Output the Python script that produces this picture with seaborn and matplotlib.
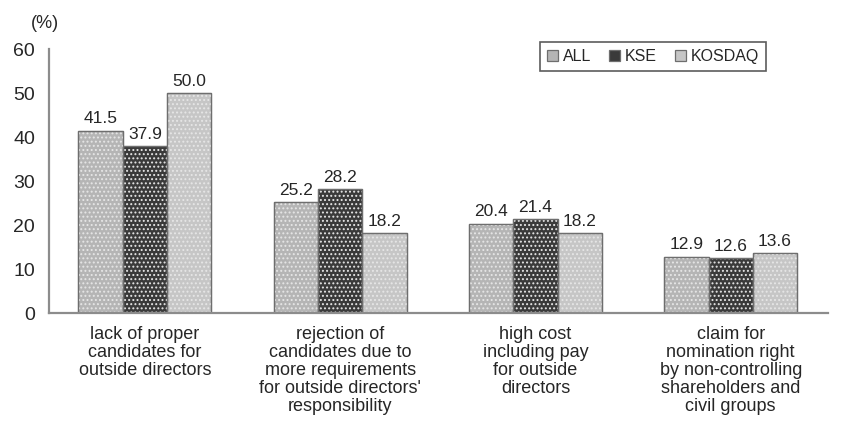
import matplotlib
matplotlib.use("Agg")
import matplotlib.pyplot as plt
import seaborn as sns
import pandas as pd
from matplotlib.patches import Rectangle

categories = [
    "lack of proper\ncandidates for\noutside directors",
    "rejection of\ncandidates due to\nmore requirements\nfor outside directors'\nresponsibility",
    "high cost\nincluding pay\nfor outside\ndirectors",
    "claim for\nnomination right\nby non-controlling\nshareholders and\ncivil groups",
]
groups = ["ALL", "KSE", "KOSDAQ"]
all_vals = [41.5, 25.2, 20.4, 12.9]
kse_vals = [37.9, 28.2, 21.4, 12.6]
kosdaq_vals = [50.0, 18.2, 18.2, 13.6]
colors = ["#b5b5b5", "#3a3a3a", "#c6c6c6"]

df = pd.DataFrame({
    "cat": categories * 3,
    "grp": [g for g in groups for _ in categories],
    "val": all_vals + kse_vals + kosdaq_vals,
})

sns.set_style("white")
plt.rcParams["font.family"] = ["Liberation Sans", "DejaVu Sans"]
plt.rcParams["hatch.linewidth"] = 0.9

fig = plt.figure(figsize=(8.62, 4.28), dpi=100)
ax = fig.add_axes([0.057, 0.268, 0.904, 0.617])

sns.barplot(data=df, x="cat", y="val", hue="grp", palette=colors,
            width=0.68, gap=0, ax=ax, edgecolor="#6e6e6e", linewidth=0.9)

# light dotted texture over the bars, then the outline again on top
for cont in ax.containers:
    for bar in cont:
        z = bar.get_zorder()
        ax.add_patch(Rectangle(bar.get_xy(), bar.get_width(), bar.get_height(),
                               fill=False, hatch="....", edgecolor="#e6e6e6",
                               linewidth=0, zorder=z + 0.1))
        ax.add_patch(Rectangle(bar.get_xy(), bar.get_width(), bar.get_height(),
                               fill=False, edgecolor="#6e6e6e", linewidth=0.9,
                               zorder=z + 0.2))
    ax.bar_label(cont, fmt="%.1f", padding=3, fontsize=12.5)

ax.set_ylim(0, 60)
ax.set_xlim(-0.49, 3.5)
ax.set_yticks(range(0, 61, 10))
ax.tick_params(axis="y", labelsize=14, length=3, direction="in", color="#888888", pad=10)
ax.set_xticks([0.5, 1.5, 2.5, 3.5], minor=True)
ax.set_xticks(range(4))
ax.set_xticklabels(categories, fontsize=13, linespacing=1.08, va="top")
ax.tick_params(axis="x", which="major", length=0, pad=9)
ax.tick_params(axis="x", which="minor", length=4, color="#888888", direction="in")
ax.set_xlabel("")
ax.set_ylabel("")
sns.despine(ax=ax)
for s in ["left", "bottom"]:
    ax.spines[s].set_color("#8c8c8c")
    ax.spines[s].set_linewidth(1.6)

ax.text(-0.023, 1.065, "(%)", transform=ax.transAxes, fontsize=13, ha="left", va="bottom")

leg = ax.legend(loc="upper right", bbox_to_anchor=(0.92, 1.027), ncol=3, frameon=True,
                fontsize=11.5, handlelength=0.7, handleheight=0.7, handletextpad=0.3,
                columnspacing=1.1, borderpad=0.45, borderaxespad=0, fancybox=False)
leg.get_frame().set_edgecolor("#333333")
leg.get_frame().set_linewidth(1.2)

fig.savefig("out.png", dpi=100)
